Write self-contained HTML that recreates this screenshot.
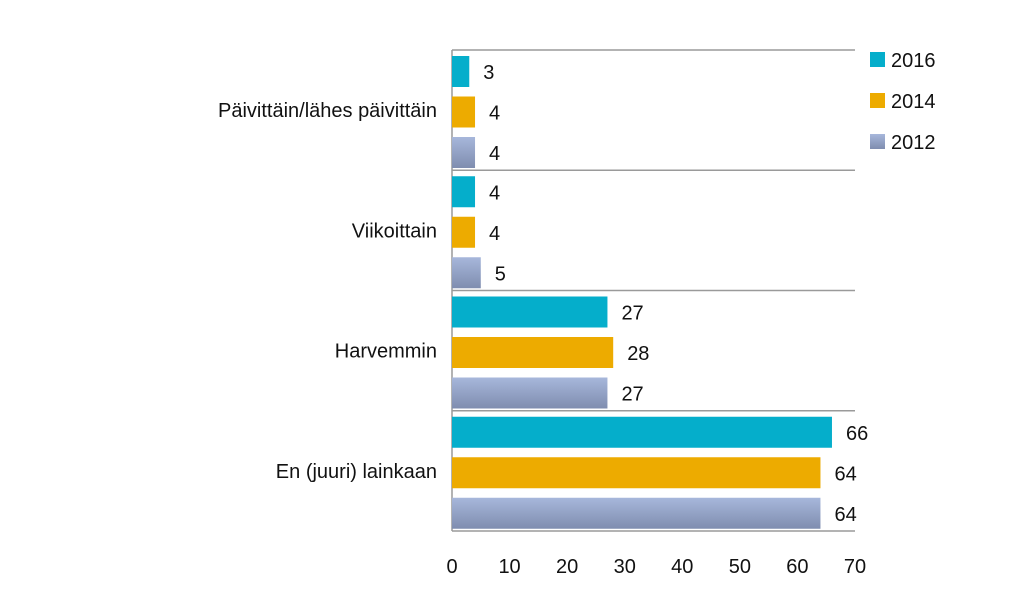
<!DOCTYPE html>
<html><head><meta charset="utf-8"><style>
body{margin:0;background:#fff;width:1024px;height:586px;overflow:hidden;font-family:"Liberation Sans",sans-serif}
</style></head><body>
<svg width="1024" height="586">
<defs>
<linearGradient id="g2012" x1="0" y1="0" x2="0" y2="1"><stop offset="0" stop-color="#a7b7db"/><stop offset="1" stop-color="#7f8daf"/></linearGradient>
</defs>
<g id="plot"></g>
</svg>
<script>
const categories=["Päivittäin/lähes päivittäin","Viikoittain","Harvemmin","En (juuri) lainkaan"];
const series2016=[3,4,27,66];
const series2014=[4,4,28,64];
const series2012=[4,5,27,64];
const seriesNames=["2016","2014","2012"];
const ticks=[0,10,20,30,40,50,60,70];
const colors=["#05aecb","#edab00","url(#g2012)"];
const allSeries=[series2016,series2014,series2012];
const x0=452,x1=855,yTop=50,yBot=531;
const xs=v=>x0+(v-0)/(70-0)*(x1-x0);
const bandH=(yBot-yTop)/categories.length;
const NS="http://www.w3.org/2000/svg";
const g=document.getElementById('plot');
function mk(t,a){const e=document.createElementNS(NS,t);for(const k in a)e.setAttribute(k,a[k]);g.appendChild(e);return e;}
for(let i=0;i<=categories.length;i++){
  const l=mk('line',{x1:x0,x2:x1,y1:yTop+i*bandH,y2:yTop+i*bandH,stroke:'#9a9a9a','stroke-width':1.5});
  
  
}
const ax=mk('line',{x1:x0,x2:x0,y1:yTop,y2:yBot,stroke:'#9a9a9a','stroke-width':1.5});


categories.forEach((c,i)=>{
  const by=yTop+i*bandH;
  const t=mk('text',{x:437,y:by+bandH/2+7,'text-anchor':'end','font-size':20,fill:'#111'});
  t.textContent=c;
  
  
  allSeries.forEach((s,j)=>{
    const y=by+6+j*40.5;
    const r=mk('rect',{x:x0,y:y,width:xs(s[i])-x0,height:31,fill:colors[j]});
    
    
    const v=mk('text',{x:xs(s[i])+14,y:y+23,'font-size':20,fill:'#111'});
    v.textContent=s[i];
    
    
  });
});
ticks.forEach(tv=>{
  const t=mk('text',{x:xs(tv),y:573,'text-anchor':'middle','font-size':20,fill:'#111'});
  t.textContent=tv;
  
  
});
seriesNames.forEach((n,j)=>{
  const y=60+j*41;
  const r=mk('rect',{x:870,y:y-8,width:15,height:15,fill:colors[j]});
  
  
  const t=mk('text',{x:891,y:y+7,'font-size':20,fill:'#111'});
  t.textContent=n;
  
  
});
</script>
</body></html>
